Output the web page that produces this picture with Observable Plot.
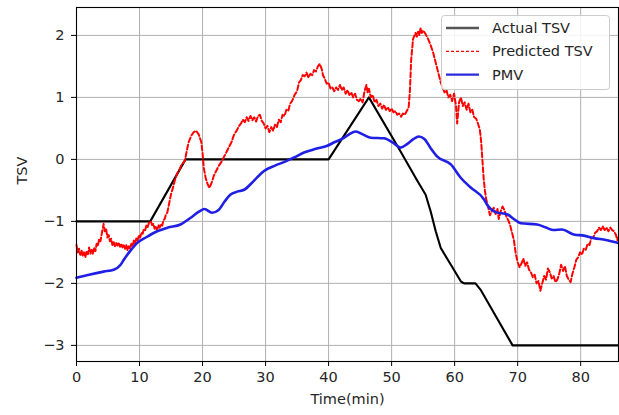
<!DOCTYPE html>
<html>
<head>
<meta charset="utf-8">
<script src="https://cdn.jsdelivr.net/npm/d3@7"></script>
<script src="https://cdn.jsdelivr.net/npm/@observablehq/plot@0.6"></script>
<style>
  html, body { margin: 0; padding: 0; background: white; }
  #chart { width: 619px; height: 415px; }
</style>
</head>
<body>
<div id="chart"></div>
<script>
// ---- data ----
const xTicks = [0, 10, 20, 30, 40, 50, 60, 70, 80];
const yTicks = [-3, -2, -1, 0, 1, 2];
const seriesNames = ["Actual TSV", "Predicted TSV", "PMV"];
const xLabel = "Time(min)";
const yLabel = "TSV";

const actualTime = [0, 11.7, 17.3, 40.0, 46.4, 51.4, 54.1, 55.4, 56.2, 57.0, 57.8, 59.4, 61.0, 61.5, 63.3, 64.1, 69.2, 86];
const actualTSV  = [-1, -1, 0, 0, 1, 0.13, -0.35, -0.57, -0.84, -1.16, -1.43, -1.70, -1.97, -2.0, -2.0, -2.1, -3, -3];

const pmvTime = [0, 2, 4.3, 5.9, 7.0, 7.5, 8.5, 9.6, 11.0, 12.8, 14.5, 16.5, 18.0, 19.5, 20.3, 21.5, 22.5, 23.5, 24.4, 25.5,
  26.6, 28.1, 29.7, 31.5, 33.0, 34.5, 36.1, 38.0, 39.8, 41.0, 42.3, 43.2, 44.3, 45.5, 46.7, 48.8, 50.2, 51.4, 52.5, 53.5,
  54.3, 55.2, 56.2, 57.2, 59.4, 61.0, 62.5, 64.7, 65.2, 66.5, 68.4, 69.5, 70.5, 73.1, 74.5, 75.7, 77.0, 78.9, 80.5, 82.1,
  84.0, 86.0];
const pmvValue = [-1.91, -1.86, -1.81, -1.78, -1.70, -1.62, -1.48, -1.35, -1.26, -1.16, -1.10, -1.05, -0.95, -0.84, -0.80, -0.86, -0.82, -0.68, -0.57, -0.52,
  -0.49, -0.35, -0.19, -0.10, -0.04, 0.03, 0.11, 0.17, 0.22, 0.28, 0.34, 0.40, 0.45, 0.40, 0.35, 0.34, 0.27, 0.19, 0.25, 0.33,
  0.37, 0.33, 0.18, 0.05, -0.08, -0.30, -0.45, -0.65, -0.74, -0.85, -0.89, -0.97, -1.03, -1.05, -1.10, -1.14, -1.13, -1.21, -1.23, -1.27,
  -1.30, -1.35];

const predTime = [
  0.0, 0.2, 0.4, 0.6, 0.8, 1.0, 1.2, 1.4, 1.6, 1.8, 2.0, 2.2, 2.4, 2.6, 2.8, 3.0, 3.2, 3.4, 3.6, 3.8,
  4.0, 4.2, 4.3, 4.5, 4.7, 4.9, 5.1, 5.3, 5.5, 5.7, 5.9, 6.1, 6.3, 6.5, 6.7, 6.9, 7.1, 7.3, 7.5, 7.7,
  7.9, 8.1, 8.3, 8.5, 8.7, 8.9, 9.1, 9.3, 9.5, 9.7, 9.9, 10.1, 10.3, 10.5, 10.7, 10.9, 11.1, 11.3, 11.5, 11.8,
  12.0, 12.2, 12.4, 12.6, 12.8, 13.0, 13.2, 13.4, 13.6, 13.8, 14.0, 14.2, 14.4, 14.6, 14.8, 15.0, 15.3, 15.6, 16.0, 16.3,
  16.6, 16.9, 17.2, 17.5, 17.8, 18.2, 18.6, 19.0, 19.4, 19.8, 20.0, 20.2, 20.5, 20.8, 21.1, 21.5, 21.8, 22.2, 22.6, 23.0,
  23.4, 23.8, 24.2, 24.6, 25.0, 25.4, 25.8, 26.1, 26.4, 26.7, 27.0, 27.3, 27.6, 27.9, 28.2, 28.5, 28.8, 29.1, 29.4, 29.7,
  30.0, 30.3, 30.6, 30.9, 31.2, 31.5, 31.8, 32.1, 32.4, 32.7, 33.0, 33.3, 33.6, 33.9, 34.2, 34.6, 35.0, 35.3, 35.6, 35.9,
  36.2, 36.5, 36.8, 37.1, 37.4, 37.7, 38.0, 38.3, 38.6, 38.9, 39.1, 39.4, 39.7, 40.0, 40.3, 40.6, 40.9, 41.2, 41.5, 41.8,
  42.1, 42.4, 42.7, 43.0, 43.3, 43.6, 43.9, 44.2, 44.5, 44.8, 45.1, 45.4, 45.7, 46.0, 46.2, 46.4, 46.7, 47.0, 47.3, 47.6,
  47.9, 48.2, 48.5, 48.8, 49.1, 49.4, 49.7, 50.0, 50.3, 50.6, 50.9, 51.2, 51.5, 51.8, 52.1, 52.4, 52.7, 52.9, 53.1, 53.4,
  53.8, 54.0, 54.2, 54.4, 54.6, 54.8, 55.0, 55.4, 55.8, 56.2, 56.6, 57.0, 57.4, 57.8, 58.1, 58.4, 58.7, 59.0, 59.3, 59.6,
  59.9, 60.2, 60.4, 60.7, 61.0, 61.3, 61.6, 61.9, 62.2, 62.5, 62.8, 63.1, 63.4, 63.7, 64.0, 64.2, 64.4, 64.6, 64.8, 65.0,
  65.3, 65.6, 65.9, 66.2, 66.5, 66.8, 67.0, 67.3, 67.6, 67.9, 68.2, 68.5, 68.8, 69.1, 69.4, 69.7, 70.0, 70.3, 70.6, 70.9,
  71.2, 71.5, 71.8, 72.1, 72.4, 72.7, 73.0, 73.3, 73.6, 73.9, 74.2, 74.5, 74.8, 75.1, 75.4, 75.7, 76.0, 76.3, 76.6, 76.9,
  77.2, 77.5, 77.8, 78.1, 78.4, 78.7, 79.0, 79.3, 79.6, 79.9, 80.2, 80.5, 80.8, 81.1, 81.4, 81.7, 82.0, 82.3, 82.6, 82.9,
  83.2, 83.5, 83.8, 84.1, 84.4, 84.7, 85.0, 85.3, 85.6, 85.8, 86.0];
const predTSV = [
  -1.38, -1.50, -1.44, -1.54, -1.47, -1.56, -1.50, -1.58, -1.48, -1.53, -1.42, -1.52, -1.46, -1.52, -1.42, -1.48, -1.36, -1.40, -1.28, -1.32,
  -1.20, -1.10, -1.04, -1.16, -1.12, -1.26, -1.22, -1.32, -1.28, -1.38, -1.33, -1.40, -1.35, -1.39, -1.34, -1.41, -1.36, -1.42, -1.37, -1.44,
  -1.38, -1.47, -1.40, -1.44, -1.36, -1.40, -1.31, -1.36, -1.27, -1.31, -1.22, -1.26, -1.18, -1.20, -1.12, -1.14, -1.06, -1.09, -1.02, -1.00,
  -1.06, -1.04, -1.12, -1.08, -1.14, -1.06, -1.10, -1.04, -1.07, -0.98, -0.96, -0.88, -0.86, -0.76, -0.66, -0.56, -0.46, -0.34, -0.22, -0.18,
  -0.10, -0.06, -0.02, 0.14, 0.28, 0.38, 0.44, 0.46, 0.40, 0.28, 0.10, -0.14, -0.30, -0.40, -0.46, -0.36, -0.26, -0.18, -0.10, -0.04,
  0.04, 0.12, 0.20, 0.28, 0.40, 0.46, 0.54, 0.58, 0.64, 0.60, 0.68, 0.62, 0.70, 0.63, 0.68, 0.61, 0.70, 0.72, 0.62, 0.58,
  0.50, 0.54, 0.44, 0.52, 0.46, 0.56, 0.52, 0.64, 0.60, 0.72, 0.70, 0.80, 0.78, 0.90, 0.94, 1.04, 1.10, 1.24, 1.28, 1.36,
  1.34, 1.40, 1.32, 1.38, 1.36, 1.44, 1.42, 1.50, 1.54, 1.46, 1.36, 1.30, 1.22, 1.24, 1.14, 1.16, 1.10, 1.16, 1.12, 1.20,
  1.12, 1.16, 1.06, 1.12, 1.04, 1.08, 1.00, 1.06, 0.96, 0.94, 0.98, 0.92, 1.10, 1.20, 1.08, 1.14, 1.00, 1.04, 0.92, 0.96,
  0.86, 0.90, 0.82, 0.88, 0.80, 0.84, 0.78, 0.82, 0.76, 0.78, 0.72, 0.74, 0.69, 0.74, 0.72, 0.78, 0.84, 1.10, 1.60, 1.94,
  2.04, 1.98, 2.06, 2.00, 2.12, 2.04, 2.08, 2.02, 1.94, 1.84, 1.72, 1.56, 1.40, 1.24, 1.16, 1.08, 1.12, 1.00, 1.04, 0.94,
  1.06, 0.88, 0.58, 0.92, 1.00, 0.86, 0.92, 0.80, 0.90, 0.76, 0.80, 0.68, 0.66, 0.58, 0.48, 0.30, 0.00, -0.30, -0.50, -0.64,
  -0.76, -0.90, -0.84, -0.78, -0.88, -0.80, -0.96, -0.84, -0.76, -0.82, -0.92, -0.98, -1.06, -1.18, -1.30, -1.52, -1.66, -1.74, -1.68, -1.60,
  -1.72, -1.66, -1.78, -1.82, -1.90, -1.86, -2.00, -1.96, -2.12, -2.00, -1.88, -1.94, -1.76, -1.82, -1.92, -1.88, -1.98, -1.94, -1.84, -1.70,
  -1.80, -1.72, -1.88, -1.94, -1.98, -1.84, -1.74, -1.62, -1.58, -1.50, -1.54, -1.44, -1.46, -1.36, -1.38, -1.26, -1.26, -1.18, -1.16, -1.10,
  -1.14, -1.08, -1.14, -1.10, -1.16, -1.10, -1.14, -1.16, -1.22, -1.30, -1.26];

// ---- tables built from the arrays ----
const actual = actualTime.map((t, i) => ({t, v: actualTSV[i]}));
const pmv = pmvTime.map((t, i) => ({t, v: pmvValue[i]}));
const pred = predTime.map((t, i) => ({t, v: predTSV[i]}));

const FONT = "'DejaVu Sans', sans-serif";
const minusFmt = d => (d < 0 ? "\u2212" + Math.abs(d) : String(d));

const chart = Plot.plot({
  width: 619,
  height: 415,
  marginLeft: 76,
  marginRight: 1,
  marginTop: 7,
  marginBottom: 54,
  style: {fontFamily: FONT, fontSize: "14.5px", color: "#262626", background: "white", overflow: "visible"},
  x: {domain: [0, 86]},
  y: {domain: [-3.26, 2.45]},
  marks: [
    Plot.gridX(xTicks, {stroke: "#b0b0b0", strokeOpacity: 1, strokeWidth: 1}),
    Plot.gridY(yTicks, {stroke: "#b0b0b0", strokeOpacity: 1, strokeWidth: 1}),
    Plot.line(actual, {x: "t", y: "v", stroke: "black", strokeWidth: 2.1}),
    Plot.line(pred, {x: "t", y: "v", stroke: "#ff0000", strokeWidth: 2, strokeDasharray: "5,2.5"}),
    Plot.line(pmv, {x: "t", y: "v", stroke: "#1f1fe6", strokeWidth: 2.6, curve: "monotone-x"}),
    Plot.frame({stroke: "black", strokeWidth: 1.1}),
    Plot.axisX(xTicks, {tickSize: 5, tickPadding: 5, fontSize: 14.5, label: null, stroke: "black"}),
    Plot.axisY(yTicks, {tickSize: 5, tickPadding: 7, fontSize: 14.5, label: null, tickFormat: minusFmt, stroke: "black"}),
    Plot.text([xLabel], {frameAnchor: "bottom", dy: 42, fontSize: 14.5, fill: "#262626"}),
    Plot.text([yLabel], {frameAnchor: "left", dx: -54, rotate: -90, fontSize: 14.5, fill: "#262626"})
  ]
});

document.getElementById("chart").appendChild(chart);

// ---- legend (drawn into the same SVG) ----
const svg = d3.select(chart);
const lg = svg.append("g")
  .attr("font-family", FONT).attr("font-size", "14.5px").attr("text-anchor", "start");
lg.append("rect")
  .attr("x", 441.5).attr("y", 15.5).attr("width", 168).attr("height", 74)
  .attr("rx", 3).attr("ry", 3)
  .attr("fill", "white").attr("fill-opacity", 0.85)
  .attr("stroke", "#cccccc").attr("stroke-width", 1);
const legendStyles = [
  {stroke: "#555555", width: 2.6, dash: null},
  {stroke: "#ff0000", width: 1.3, dash: "3,2"},
  {stroke: "#2a2ad8", width: 2.2, dash: null}
];
seriesNames.forEach((name, i) => {
  const y = 28 + i * 23.3;
  const s = legendStyles[i];
  const ln = lg.append("line")
    .attr("x1", 446).attr("x2", 479).attr("y1", y).attr("y2", y)
    .attr("stroke", s.stroke).attr("stroke-width", s.width);
  if (s.dash) ln.attr("stroke-dasharray", s.dash);
  lg.append("text")
    .attr("x", 492).attr("y", y).attr("dy", "0.35em")
    .attr("text-anchor", "start")
    .attr("fill", "#262626")
    .text(name);
});
</script>
</body>
</html>
